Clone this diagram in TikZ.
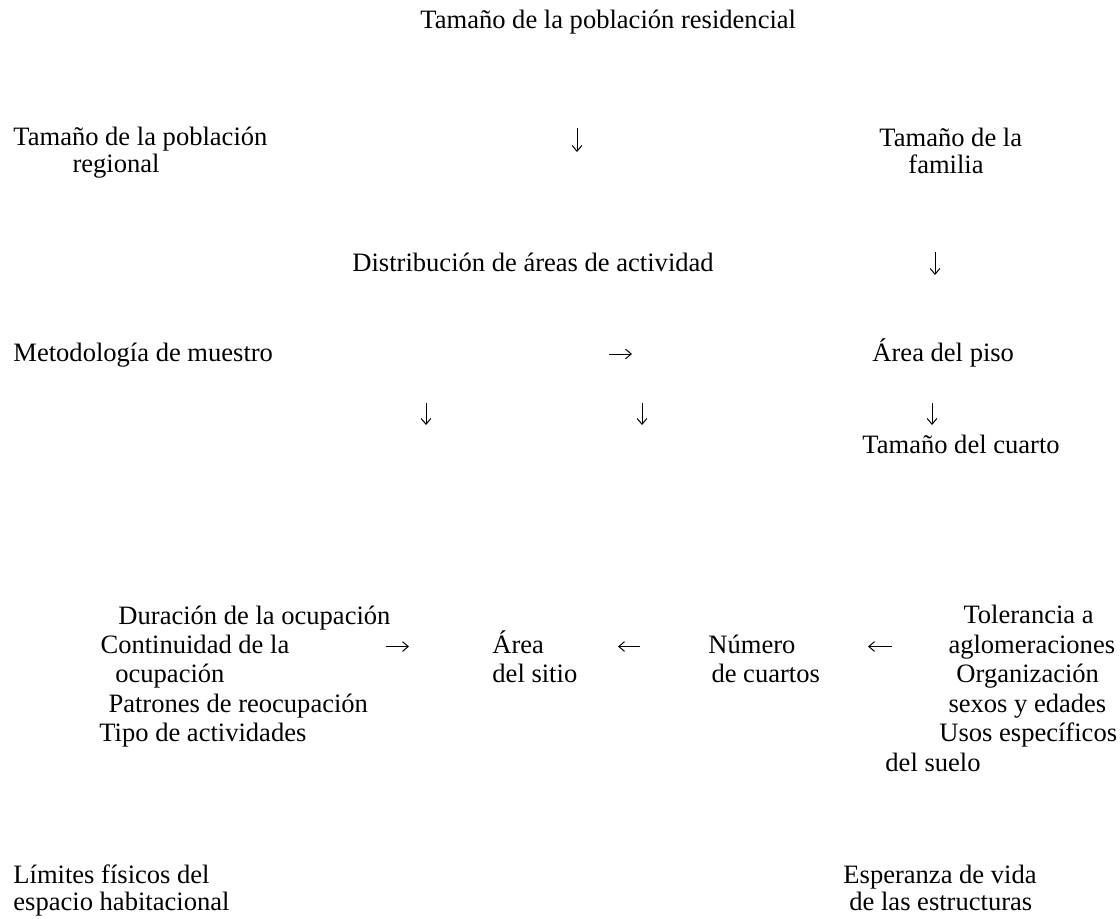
\documentclass[tikz,border=0pt]{standalone}
\usepackage{fontspec}
\setmainfont{Liberation Serif}
\usetikzlibrary{arrows.meta}

\begin{document}
\begin{tikzpicture}[x=0.452pt, y=-0.452pt,
  lbl/.style={anchor=base west, inner sep=0pt, align=left, font=\fontsize{12pt}{#1}\selectfont},
  lbl/.default=13.3pt,
  arr/.style={-{Straight Barb[length=2.6pt,width=4.4pt]}, line width=0.45pt}]
  \useasboundingbox (0,0) rectangle (1120,918);
  % Top rows (multi-line nodes sit on their last line)
  \node[lbl] (resid) at (420,29) {Tamaño de la población residencial};
  \node[lbl=11.8pt] (regional) at (13,172.1) {Tamaño de la población\\\hspace*{26.7pt}regional};
  \node[lbl=12.6pt] (familia) at (879,173.9) {Tamaño de la\\\hspace*{13.1pt}familia};
  \node[lbl] (distrib) at (352,271) {Distribución de áreas de actividad};
  \node[lbl] (metodo) at (13,361) {Metodología de muestro};
  \node[lbl] (piso) at (872,361) {Área del piso};
  \node[lbl] (cuarto) at (862,453) {Tamaño del cuarto};
  % Arrows of the top rows
  \coordinate (resT) at (577,128);
  \coordinate (resH) at (577,152);
  \draw[arr] (resT) -- (resH);
  \coordinate (famT) at (935,252);
  \coordinate (famH) at (935,275);
  \draw[arr] (famT) -- (famH);
  \coordinate (metT) at (609,354);
  \coordinate (metH) at (632,354);
  \draw[arr] (metT) -- (metH);
  \foreach \x [count=\i] in {426,642,932} {
    \coordinate (dnT\i) at (\x,403);
    \coordinate (dnH\i) at (\x,425);
    \draw[arr] (dnT\i) -- (dnH\i);
  }
  % Lower block
  \node[lbl] (ocup) at (99,741.7) {\hspace*{8.6pt}Duración de la ocupación\\
    \hspace*{0.5pt}Continuidad de la\\
    \hspace*{7.2pt}ocupación\\
    \hspace*{4.1pt}Patrones de reocupación\\
    Tipo de actividades};
  \node[lbl] (sitio) at (492,682.9) {Área\\del sitio};
  \node[lbl] (cuartos) at (708,682.9) {Número\\\hspace*{1.4pt}de cuartos};
  \node[lbl] (toler) at (885,771.1) {\hspace*{35.3pt}Tolerancia a\\
    \hspace*{28.5pt}aglomeraciones\\
    \hspace*{32.1pt}Organización\\
    \hspace*{28.5pt}sexos y edades\\
    \hspace*{24.4pt}Usos específicos\\
    del suelo};
  % Arrows of the lower block
  \coordinate (ocuT) at (386,646.5);
  \coordinate (ocuH) at (409,646.5);
  \draw[arr] (ocuT) -- (ocuH);
  \coordinate (cuaT) at (640,646.5);
  \coordinate (cuaH) at (618,646.5);
  \draw[arr] (cuaT) -- (cuaH);
  \coordinate (tolT) at (892,646.5);
  \coordinate (tolH) at (868,646.5);
  \draw[arr] (tolT) -- (tolH);
  % Bottom row
  \node[lbl=12.6pt] (limites) at (13,910.9) {Límites físicos del\\espacio habitacional};
  \node[lbl=12.6pt] (esper) at (843,910.9) {Esperanza de vida\\\hspace*{2.7pt}de las estructuras};
\end{tikzpicture}
\end{document}
